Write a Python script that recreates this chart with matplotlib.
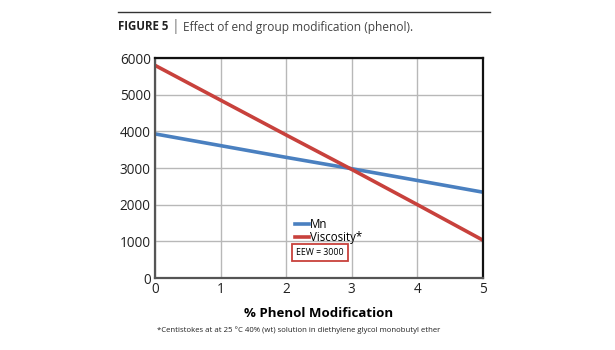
import matplotlib
matplotlib.use("Agg")
import matplotlib.pyplot as plt
from matplotlib.lines import Line2D

plt.rcParams['font.family'] = ['Open Sans', 'DejaVu Sans']

# data
phenol = [0, 1, 2, 3, 4, 5]
mn = [3930, 3610, 3290, 2980, 2660, 2340]
viscosity = [5800, 4850, 3900, 2960, 2000, 1030]
yticks = [0, 1000, 2000, 3000, 4000, 5000, 6000]

blue = "#4a80c0"
red = "#c8413c"

fig = plt.figure(figsize=(6.15, 3.5), dpi=100)
ax = fig.add_axes([155/615, 1 - 278/350, 328/615, 220/350])

ax.plot(phenol, mn, color=blue, lw=2.6, solid_capstyle='butt')
ax.plot(phenol, viscosity, color=red, lw=2.6, solid_capstyle='butt')

ax.set_xlim(0, 5)
ax.set_ylim(0, 6000)
ax.set_xticks(phenol)
ax.set_yticks(yticks)
ax.grid(True, color="#b8b8b8", lw=1)
ax.set_axisbelow(True)
ax.tick_params(length=0, labelsize=9.8, pad=3, colors="#222222")
for side in ['top', 'right']:
    ax.spines[side].set_color("#111111")
    ax.spines[side].set_linewidth(1.6)
for side in ['left', 'bottom']:
    ax.spines[side].set_color("#555555")
    ax.spines[side].set_linewidth(1.6)

ax.set_xlabel("% Phenol Modification", fontsize=9.5, fontweight='bold', labelpad=7)

handles = [Line2D([], [], color=blue, lw=2.6), Line2D([], [], color=red, lw=2.6)]
ax.legend(handles, ["Mn", "Viscosity*"], loc='upper left', bbox_to_anchor=(0.41, 0.3),
          frameon=False, fontsize=8.3, handlelength=1.2, handletextpad=0.1,
          labelspacing=0.05, borderpad=0)

ax.text(0.43, 0.115, "EEW = 3000", transform=ax.transAxes, fontsize=6.3,
        va='center', ha='left',
        bbox=dict(boxstyle='square,pad=0.45', fc='white', ec=red, lw=1.3))

# header rule and caption
fig.add_artist(Line2D([118/615, 490/615], [1 - 12/350, 1 - 12/350], color="#333333", lw=1))
t1 = fig.text(118/615, 1 - 27/350, "FIGURE 5", fontsize=8.3, fontweight='bold',
              va='center', ha='left', color="#222222")
t2 = ax.annotate("|", xy=(1, 0.5), xycoords=t1, xytext=(2.5, 0), textcoords='offset points',
                 fontsize=10, va='center', ha='left', color="#777777", annotation_clip=False)
ax.annotate("Effect of end group modification (phenol).", xy=(1, 0.5), xycoords=t2,
            xytext=(2.5, 0), textcoords='offset points', annotation_clip=False,
            fontsize=8.6, va='center', ha='left', color="#444444")

fig.text(157/615, 1 - 330/350,
         "*Centistokes at at 25 °C 40% (wt) solution in diethylene glycol monobutyl ether",
         fontsize=5.6, va='center', ha='left', color="#222222")

fig.savefig("out.png", dpi=100)
